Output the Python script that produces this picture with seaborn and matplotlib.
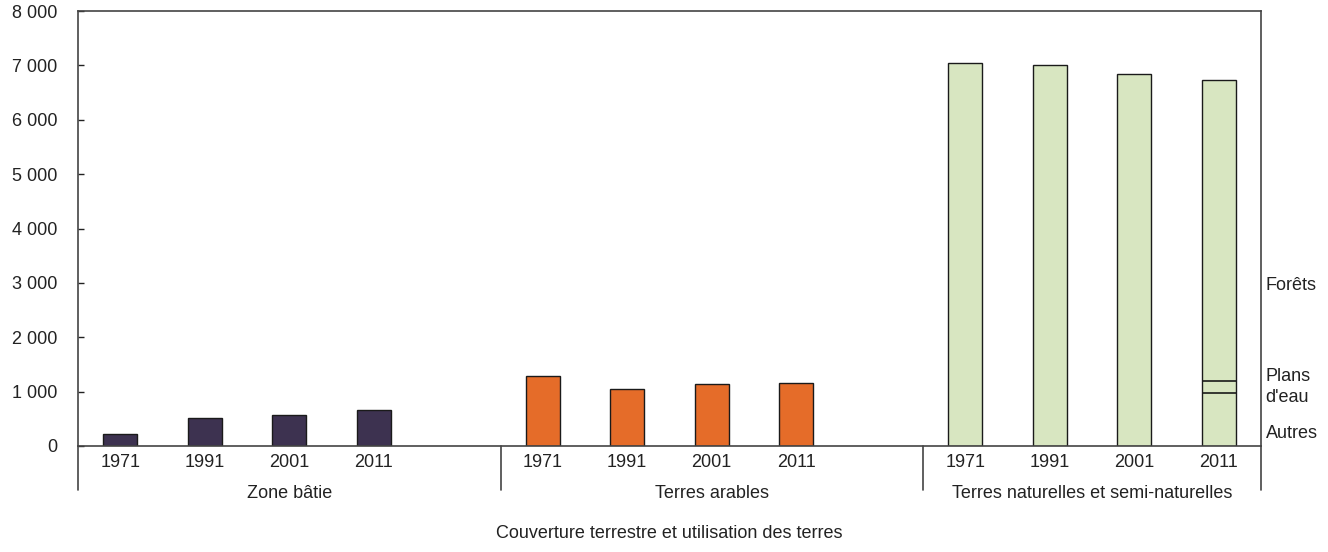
import pandas as pd
import matplotlib.pyplot as plt
import matplotlib.transforms as mtransforms
import seaborn as sns

# land cover groups and years
groups = ['Zone bâtie', 'Terres arables', 'Terres naturelles et semi-naturelles']
years = ['1971', '1991', '2001', '2011']
built = [215, 515, 570, 668]
arable = [1287, 1042, 1140, 1152]
natural = [7047, 7000, 6835, 6731]
# split of the 2011 natural bar: Autres / Plans d'eau / Forêts
natural_2011_split = [980, 210, 5541]
split_labels = ['Autres', "Plans\nd'eau", 'Forêts']
colors = ['#3d3250', '#e56c29', '#d8e6c1']
y_ticks = [0, 1000, 2000, 3000, 4000, 5000, 6000, 7000, 8000]
y_labels = ['0', '1 000', '2 000', '3 000', '4 000', '5 000', '6 000', '7 000', '8 000']


def build_frame():
    """one row per bar, with a unique slot key"""
    rows = []
    for g, vals in zip(groups, [built, arable, natural]):
        for y, v in zip(years, vals):
            rows.append({'slot': f'{g} {y}', 'group': g, 'year': y, 'value': v})
    return pd.DataFrame(rows)


def slot_order():
    """4 bars per group, an empty slot after the first two groups"""
    order = []
    for i, g in enumerate(groups):
        order += [f'{g} {y}' for y in years]
        if i < len(groups) - 1:
            order.append(f'{g} gap')
    return order


df = build_frame()
order = slot_order()

sns.set_style('white')
plt.rcParams['font.family'] = ['Liberation Sans', 'DejaVu Sans']
plt.rcParams['font.size'] = 13

fig = plt.figure(figsize=(13.28, 5.52), dpi=100)
ax = fig.add_axes([78 / 1328, 1 - 446 / 552, 1183 / 1328, 435 / 552])

sns.barplot(data=df, x='slot', y='value', hue='group', order=order,
            palette=colors, width=0.4, dodge=False, edgecolor='#1a1a1a',
            linewidth=1, legend=False, ax=ax, saturation=1)

ax.set_xlim(-0.5, len(order) - 0.5)
ax.set_ylim(0, 8000)
ax.set_yticks(y_ticks)
ax.set_yticklabels(y_labels)

tick_pos = [order.index(s) for s in df['slot']]
ax.set_xticks(tick_pos)
ax.set_xticklabels(df['year'])
ax.tick_params(axis='x', length=0, pad=6, labelsize=13, colors='#222222')
ax.tick_params(axis='y', direction='in', length=4, width=1, pad=15,
               labelsize=13, colors='#222222', left=True)
ax.set_xlabel('')
ax.set_ylabel('')

for sp in ax.spines.values():
    sp.set_color('#444444')
    sp.set_linewidth(1.2)
    sp.set_visible(True)

# split lines inside the 2011 natural bar
last_idx = order.index(f'{groups[2]} 2011')
bounds = [natural_2011_split[0], natural_2011_split[0] + natural_2011_split[1]]
ax.hlines(bounds, last_idx - 0.2, last_idx + 0.2, color='#1a1a1a', linewidth=1.2, zorder=5)

# group separators below the axis
trans = mtransforms.blended_transform_factory(ax.transData, ax.transAxes)
seps = [-0.5,
        order.index(f'{groups[0]} gap') + 0.5,
        order.index(f'{groups[1]} gap') + 0.5,
        len(order) - 0.5]
for s in seps:
    ax.plot([s, s], [0, -0.102], color='#444444', linewidth=1.2,
            transform=trans, clip_on=False)

for a, b, g in zip(seps[:-1], seps[1:], groups):
    ax.text((a + b) / 2, -0.11, g, transform=trans, ha='center', va='center',
            fontsize=13, color='#222222')

ax.text(0.5, -0.2, 'Couverture terrestre et utilisation des terres',
        transform=ax.transAxes, ha='center', va='center', fontsize=13, color='#222222')

# labels of the split on the right
right = mtransforms.blended_transform_factory(ax.transAxes, ax.transData)
for lab, yv in zip(split_labels, [239, 1085, 2960]):
    ax.text(1.004, yv, lab, transform=right, ha='left', va='center',
            fontsize=13, color='#222222', linespacing=1.3)

fig.savefig('out.png', dpi=100)
